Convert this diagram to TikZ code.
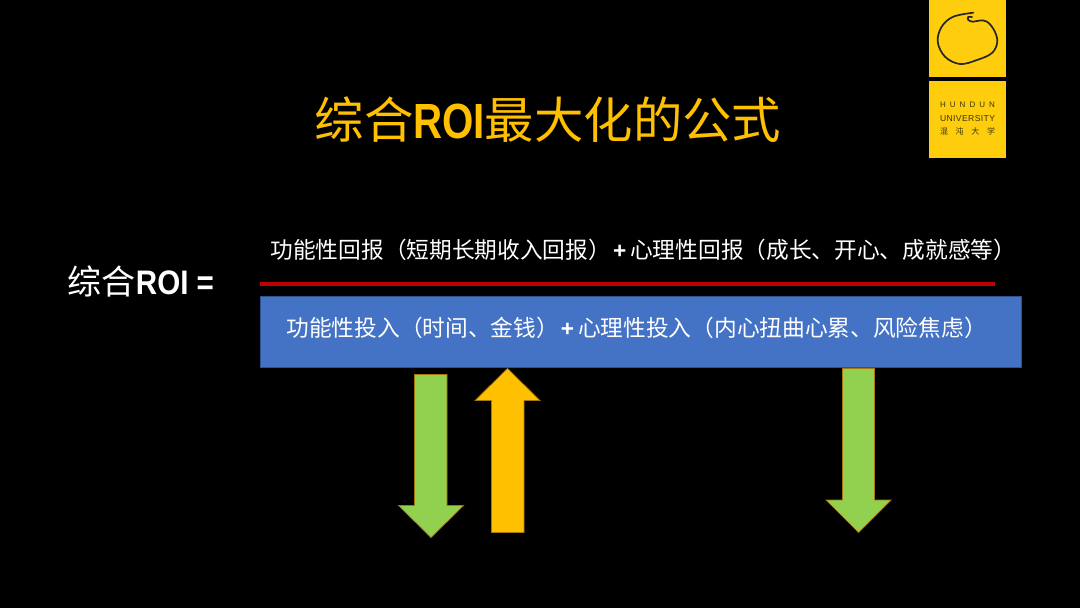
\documentclass[tikz,border=0pt]{standalone}
\usepackage{fontspec}
\setmainfont{Liberation Sans}
\newfontfamily\cjk{Noto Sans CJK SC}
\newcommand{\narrowbold}[2][0.87]{\scalebox{#1}[1]{\textbf{#2}}}
\newcommand{\plusmark}{\hspace{2pt}{\fontspec{Liberation Sans}\textbf{+}}\hspace{4pt}}
\definecolor{titlegold}{HTML}{FFC000}
\definecolor{logoyellow}{HTML}{FDCD0E}
\definecolor{logotext}{HTML}{3A3408}
\definecolor{ruleRed}{HTML}{C00000}
\definecolor{boxblue}{HTML}{4472C4}
\definecolor{boxedge}{HTML}{2F528F}
\definecolor{arrowgreen}{HTML}{92D050}
\definecolor{arrowedge}{HTML}{A5770F}
\tikzset{
  lab/.style={inner sep=0pt,outer sep=0pt,anchor=center,text=white},
  bodylab/.style={inner sep=0pt,outer sep=0pt,anchor=west,text=white,font=\cjk\fontsize{22.7}{24}\selectfont},
  downarrow/.style={fill=arrowgreen,draw=arrowedge,line width=0.7pt,line join=miter},
  uparrow/.style={fill=titlegold,draw=arrowedge,line width=0.7pt,line join=miter},
  logopanel/.style={fill=logoyellow,draw=none},
  logolab/.style={inner sep=0pt,text=logotext,anchor=center}
}
\begin{document}
\begin{tikzpicture}[x=1pt,y=-1pt]
\useasboundingbox (0,0) rectangle (1080,608);
\fill[black] (0,0) rectangle (1080,608);
% logo
\fill[logopanel] (929,0) rectangle (1006,77);
\fill[logopanel] (929,81) rectangle (1006,158);
\draw[black!85,line width=1.7pt,line cap=round] plot[smooth,tension=0.6] coordinates {
 (972,17) (968.3,17) (968.3,20) (973,21.7) (980,20.5) (987,21.7) (994,30) (997.3,41.7) (992,53)
 (977,60) (960,64) (945,56.7) (937.7,41.7) (941.7,26.7) (953.3,16.7) (973.3,12.7)};
\node[logolab,font=\fontsize{8}{8}\selectfont] (hundun) at (967.5,105) {\hbox to 55pt{H\hfill U\hfill N\hfill D\hfill U\hfill N}};
\node[logolab,font=\fontsize{8.6}{8}\selectfont] (univ) at (967.5,118.5) {\hbox to 55pt{U\hfill N\hfill I\hfill V\hfill E\hfill R\hfill S\hfill I\hfill T\hfill Y}};
\node[logolab,font=\cjk\fontsize{8}{8}\selectfont] (cn) at (967.5,131.5) {\hbox to 55pt{混\hfill 沌\hfill 大\hfill 学}};
% title
\node[lab,text=titlegold,font=\fontsize{49.4}{52}\selectfont] (title) at (548,120)
  {{\cjk 综合}\narrowbold[0.815]{ROI}{\cjk 最大化的公式}};
% left label
\node[lab,font=\fontsize{34}{36}\selectfont] (left) at (141,281)
  {{\cjk 综合}\narrowbold{ROI =}};
% numerator
\node[bodylab] (num) at (270.5,250)
  {功能性回报（短期长期收入回报）\plusmark 心理性回报（成长、开心、成就感等）};
% fraction rule
\coordinate (ruleL) at (260,284);
\coordinate (ruleR) at (995,284);
\draw[ruleRed,line width=4pt] (ruleL) -- (ruleR);
% denominator
\node[lab,fill=boxblue,draw=boxedge,line width=0.8pt,minimum width=761pt,minimum height=71pt] (box) at (641,331.8) {};
\node[bodylab] (den) at (286.5,328)
  {功能性投入（时间、金钱）\plusmark 心理性投入（内心扭曲心累、风险焦虑）};
% arrows
\draw[downarrow] (414.5,374.5) -- (447,374.5) -- (447,505.5) -- (463.5,505.5) -- (431,537.5) -- (398.5,505.5) -- (414.5,505.5) -- cycle;
\draw[uparrow] (491.5,532.5) -- (524,532.5) -- (524,400.5) -- (540,400.5) -- (507.5,368.5) -- (475,400.5) -- (491.5,400.5) -- cycle;
\draw[downarrow] (842.5,368.5) -- (874.5,368.5) -- (874.5,500) -- (891,500) -- (858.5,532.5) -- (826,500) -- (842.5,500) -- cycle;
\end{tikzpicture}
\end{document}
